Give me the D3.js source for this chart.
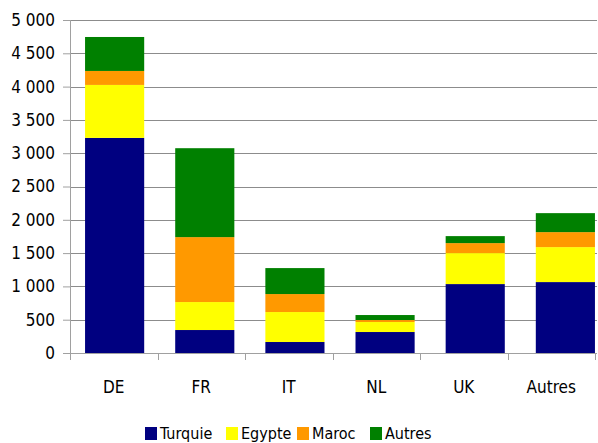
<!DOCTYPE html>
<html>
<head>
<meta charset="utf-8">
<script src="https://cdn.jsdelivr.net/npm/d3@7"></script>
<style>
  body { margin: 0; background: #fff; }
  svg text { font-family: "Liberation Sans Narrow", "DejaVu Sans Condensed", sans-serif; fill: #000; }
</style>
</head>
<body>
<svg id="chart"></svg>
<script>
var categories = ["DE", "FR", "IT", "NL", "UK", "Autres"];
var seriesNames = ["Turquie", "Egypte", "Maroc", "Autres"];
var turquie = [3230, 345, 165, 315, 1035, 1065];
var egypte  = [795, 420, 450, 150, 465, 525];
var maroc   = [210, 975, 270, 30, 150, 225];
var autres  = [510, 1335, 390, 75, 105, 285];
var yTicks = [0, 500, 1000, 1500, 2000, 2500, 3000, 3500, 4000, 4500, 5000];
var colors = ["#000080", "#ffff00", "#ff9900", "#008000"];

var margin = {top: 20, right: 1, bottom: 90, left: 70},
    width = 598 - margin.left - margin.right,
    height = 443 - margin.top - margin.bottom;

var svg = d3.select("#chart")
  .attr("width", 598)
  .attr("height", 443);

var g = svg.append("g").attr("transform", "translate(" + margin.left + "," + margin.top + ")");

var rows = categories.map(function(c, i) {
  return {cat: c, Turquie: turquie[i], Egypte: egypte[i], Maroc: maroc[i], Autres: autres[i]};
});
var stacked = d3.stack().keys(seriesNames)(rows);

// bars sit on a slightly wider step than the axis ticks, as in the original
var xBar = d3.scaleBand().domain(categories).range([0, 540]).paddingInner(0.344).paddingOuter(0.167);
var x = d3.scaleBand().domain(categories).range([0, 525]);
var y = d3.scaleLinear().domain([0, 5000]).range([height, 0]);

var fmt = d3.formatLocale({decimal: ",", thousands: "\u00a0", grouping: [3], currency: ["", " €"]}).format(",d");

// grid
g.append("g")
  .selectAll("line")
  .data(yTicks.slice(1))
  .enter().append("line")
    .attr("x1", 0).attr("x2", width)
    .attr("y1", function(d) { return Math.round(y(d)) + 0.5; })
    .attr("y2", function(d) { return Math.round(y(d)) + 0.5; })
    .attr("stroke", "#8c8c8c")
    .attr("stroke-width", 1);

// bars
g.append("g")
  .selectAll("g")
  .data(stacked)
  .enter().append("g")
    .attr("fill", function(d, i) { return colors[i]; })
  .selectAll("rect")
  .data(function(d) { return d; })
  .enter().append("rect")
    .attr("x", function(d) { return xBar(d.data.cat); })
    .attr("y", function(d) { return y(d[1]); })
    .attr("height", function(d) { return y(d[0]) - y(d[1]); })
    .attr("width", xBar.bandwidth());

// y axis
var yAxis = g.append("g")
  .call(d3.axisLeft(y).tickValues(yTicks).tickSize(7).tickPadding(8).tickFormat(fmt));
yAxis.selectAll("text").style("font-size", "17px");
yAxis.selectAll("line, path").attr("stroke", "#a0a0a0");
yAxis.select(".domain").attr("d", "M0.5,0V" + height);

// x axis
var xAxis = g.append("g")
  .attr("transform", "translate(0," + height + ")")
  .call(d3.axisBottom(x).tickSize(0).tickPadding(28));
xAxis.select(".domain").attr("stroke", "#a0a0a0").attr("d", "M-7,0.5H" + width);
xAxis.selectAll("text").style("font-size", "17px");
xAxis.append("g")
  .selectAll("line")
  .data(d3.range(categories.length + 1))
  .enter().append("line")
    .attr("x1", function(i) { return Math.round(i * x.step()) + 0.5; })
    .attr("x2", function(i) { return Math.round(i * x.step()) + 0.5; })
    .attr("y1", 0).attr("y2", 7)
    .attr("stroke", "#a0a0a0");

// legend
var legendX = [145, 226, 297, 370];
var legend = svg.append("g")
  .selectAll("g")
  .data(seriesNames)
  .enter().append("g")
    .attr("transform", function(d, i) { return "translate(" + legendX[i] + ",427)"; });
legend.append("rect")
  .attr("width", 12).attr("height", 13)
  .attr("fill", function(d, i) { return colors[i]; });
legend.append("text")
  .attr("x", 15).attr("y", 12)
  .style("font-size", "16px")
  .text(function(d) { return d; });
</script>
</body>
</html>
